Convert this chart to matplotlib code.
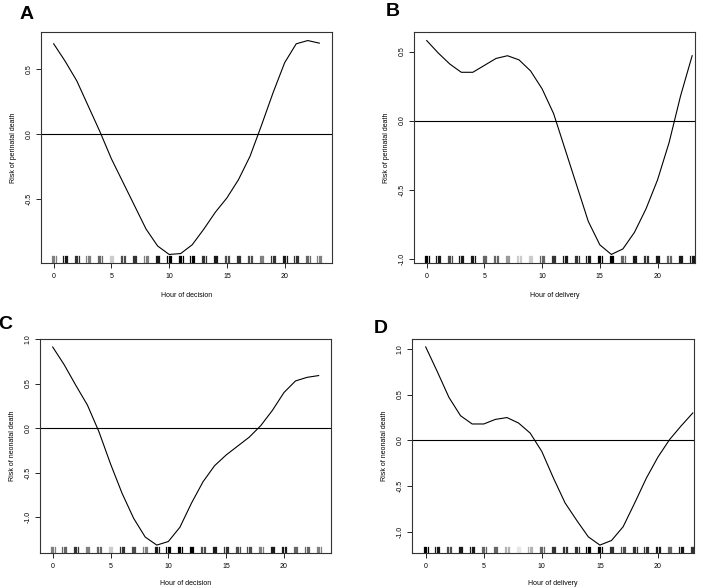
import matplotlib.pyplot as plt

plt.rcParams['font.family'] = ['Liberation Sans', 'DejaVu Sans']

hours = list(range(24))

# Smooth effect estimates
perinatal_decision = [0.695, 0.56, 0.41, 0.215, 0.02, -0.19, -0.37, -0.55, -0.73, -0.86, -0.925, -0.918,
                      -0.85, -0.73, -0.60, -0.49, -0.35, -0.17, 0.07, 0.32, 0.55, 0.695, 0.72, 0.70]
perinatal_delivery = [0.58, 0.49, 0.41, 0.35, 0.35, 0.40, 0.45, 0.47, 0.44, 0.36, 0.23, 0.05,
                      -0.21, -0.47, -0.73, -0.90, -0.97, -0.93, -0.81, -0.64, -0.43, -0.16, 0.18, 0.47]
neonatal_decision = [0.91, 0.71, 0.48, 0.26, -0.04, -0.40, -0.73, -1.01, -1.22, -1.31, -1.27, -1.11,
                     -0.84, -0.60, -0.42, -0.30, -0.20, -0.10, 0.03, 0.20, 0.40, 0.53, 0.57, 0.59]
neonatal_delivery = [1.02, 0.75, 0.47, 0.27, 0.18, 0.18, 0.23, 0.25, 0.19, 0.08, -0.12, -0.41,
                     -0.68, -0.87, -1.05, -1.14, -1.09, -0.94, -0.68, -0.41, -0.18, 0.01, 0.16, 0.30]

# Rug darkness per hour (1 = many observations / black)
rug_a = [0.5, 0.9, 0.8, 0.5, 0.6, 0.2, 0.7, 0.8, 0.5, 0.9, 1, 1, 1, 0.8, 0.9, 0.7, 0.8, 0.7, 0.5, 0.8, 0.9, 0.8, 0.6, 0.5]
rug_b = [1, 0.9, 0.7, 0.9, 0.9, 0.6, 0.6, 0.4, 0.2, 0.2, 0.6, 0.8, 0.9, 0.8, 0.9, 1, 1, 0.6, 0.9, 0.8, 0.9, 0.6, 0.9, 0.9]
rug_c = [0.5, 0.6, 0.8, 0.5, 0.6, 0.2, 0.8, 0.7, 0.5, 0.9, 1, 1, 1, 0.7, 0.9, 0.8, 0.7, 0.7, 0.5, 0.9, 0.9, 0.6, 0.6, 0.5]
rug_d = [1, 0.9, 0.7, 0.9, 0.9, 0.6, 0.6, 0.3, 0.1, 0.3, 0.6, 0.8, 0.8, 0.8, 1, 1, 0.8, 0.7, 0.8, 0.8, 0.9, 0.6, 0.9, 0.8]

panels = [
    ('A', perinatal_decision, rug_a, 'Hour of decision', 'Risk of perinatal death',
     [0.0578, 0.5527, 0.4105, 0.3929], (-1.1, 24.1), [-0.5, 0.0, 0.5], (0.027, 0.990), 8.5),
    ('B', perinatal_delivery, rug_b, 'Hour of delivery', 'Risk of perinatal death',
     [0.5839, 0.5527, 0.3964, 0.3929], (-1.1, 23.25), [-1.0, -0.5, 0.0, 0.5], (0.544, 0.995), 8.5),
    ('C', neonatal_decision, rug_c, 'Hour of decision', 'Risk of neonatal death',
     [0.0564, 0.0595, 0.4105, 0.3640], (-1.1, 24.07), [-1.0, -0.5, 0.0, 0.5, 1.0], (-0.002, 0.463), 7),
    ('D', neonatal_delivery, rug_d, 'Hour of delivery', 'Risk of neonatal death',
     [0.5811, 0.0595, 0.3977, 0.3640], (-1.18, 23.1), [-1.0, -0.5, 0.0, 0.5, 1.0], (0.527, 0.455), 7),
]

fig = plt.figure(figsize=(7.09, 5.88), dpi=100)

for letter, values, rug, xlab, ylab, rect, xlim, yticks, lpos, xpad in panels:
    ax = fig.add_axes(rect)
    ax.plot(hours, values, color='black', linewidth=0.8)
    ax.axhline(0, color='black', linewidth=0.8)
    lo, hi = min(values), max(values)
    pad = (hi - lo) * 0.04
    ax.set_ylim(lo - pad, hi + pad)
    ax.set_xlim(*xlim)
    # rug: short jittered ticks around each hour
    for h, d in zip(hours, rug):
        g = 1 - d
        for off in (-0.16, -0.05, 0.05, 0.16):
            ax.axvline(h + off, ymin=0, ymax=0.03, color=(g, g, g), linewidth=0.9)
    ax.set_xticks([0, 5, 10, 15, 20])
    ax.set_yticks(yticks)
    ax.set_yticklabels([f'{t:.1f}' for t in yticks], rotation=90, va='center')
    ax.tick_params(labelsize=5, length=3.5, width=0.6)
    ax.tick_params(axis='x', pad=4)
    ax.tick_params(axis='y', pad=2.5)
    for s in ax.spines.values():
        s.set_linewidth(0.8)
        s.set_color('#333333')
    ax.set_xlabel(xlab, fontsize=5, labelpad=xpad)
    ax.set_ylabel(ylab, fontsize=5, labelpad=6)
    fig.text(lpos[0], lpos[1], letter, fontsize=14, fontweight='bold', va='top', ha='left')

fig.savefig('out.png', dpi=100)
